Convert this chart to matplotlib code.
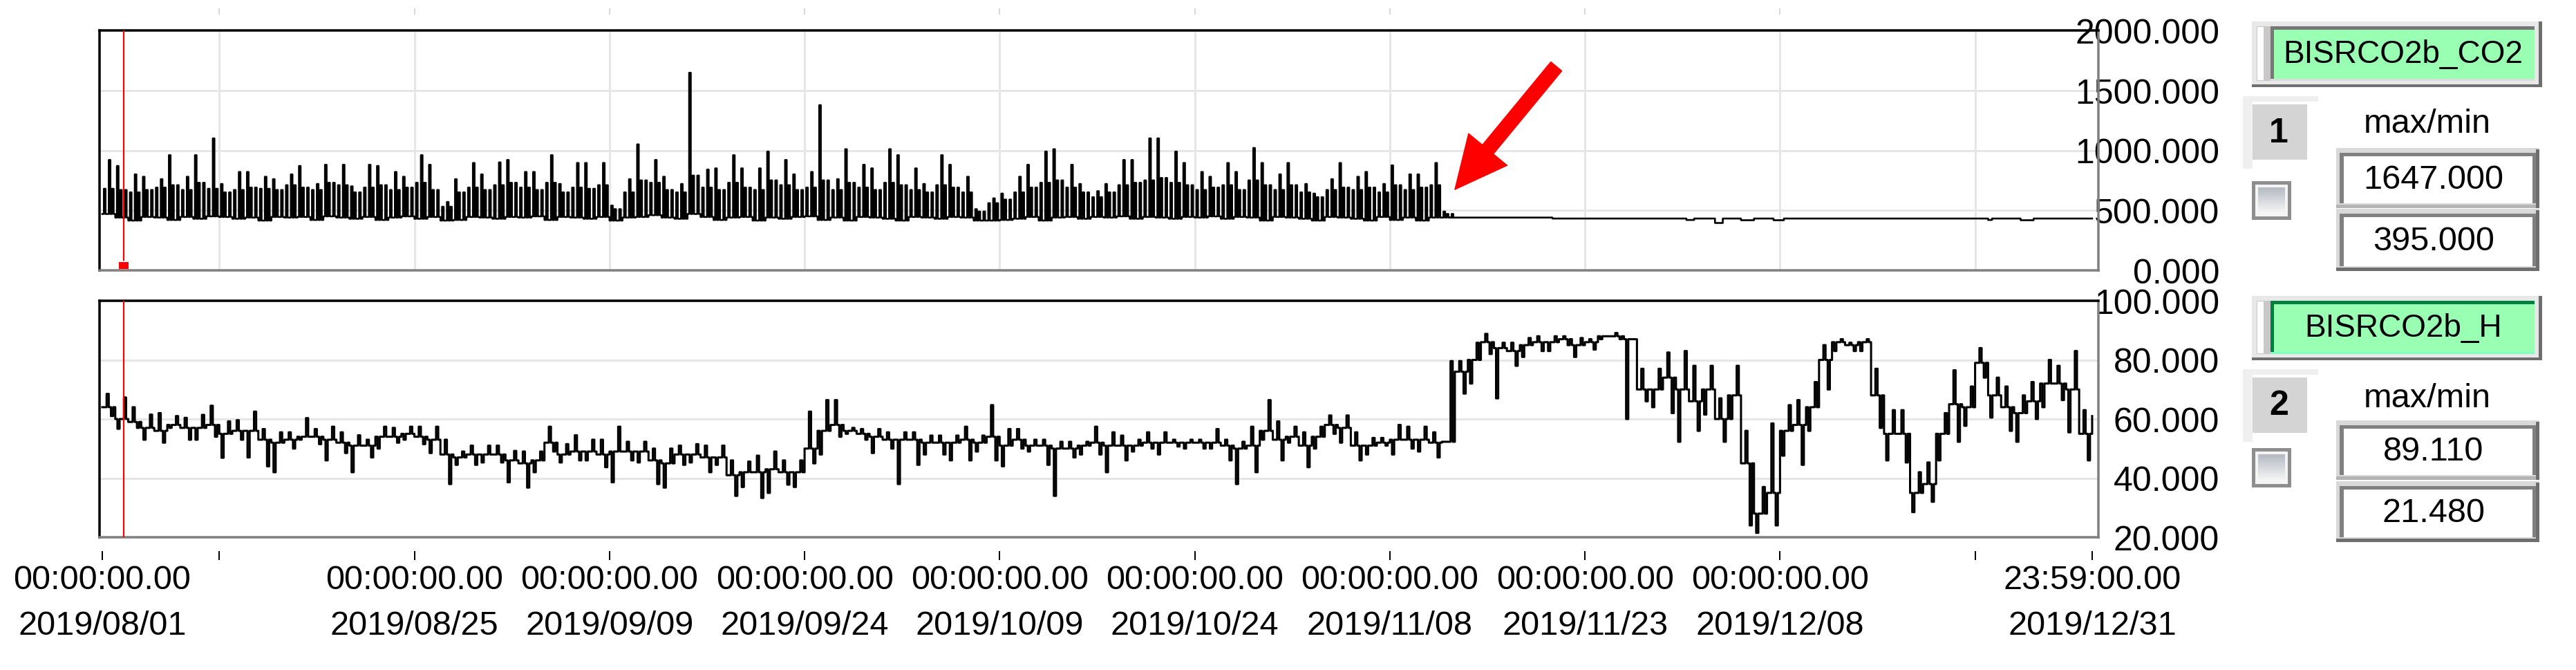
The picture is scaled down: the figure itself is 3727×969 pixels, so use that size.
import numpy as np
import matplotlib
matplotlib.use("Agg")
import matplotlib.pyplot as plt
import matplotlib.transforms as mtransforms
from matplotlib.patches import Rectangle
from matplotlib.colors import LinearSegmentedColormap

plt.rcParams['font.family'] = ['Liberation Sans Narrow', 'Liberation Sans', 'DejaVu Sans']

W, H, DPI = 3727, 970, 100

# ---- data (x = days since 2019/08/01 00:00) ----
# CO2: per-day low, top of the dense band, and spike high, until the sensor goes flat
co2_lo = [470, 440, 415, 445, 440, 420, 445, 430, 450, 445,
          430, 440, 415, 445, 440, 445, 420, 450, 440, 430,
          445, 420, 440, 450, 430, 445, 415, 420, 445, 440,
          430, 445, 440, 450, 420, 445, 440, 430, 445, 415,
          440, 445, 460, 440, 430, 470, 445, 420, 440, 445,
          415, 440, 430, 445, 450, 420, 440, 415, 445, 440,
          430, 415, 445, 440, 430, 445, 440, 415, 415, 420,
          430, 445, 415, 440, 445, 430, 445, 440, 450, 430,
          445, 440, 430, 445, 440, 450, 430, 445, 440, 415,
          445, 440, 430, 415, 445, 440, 430, 415, 445, 420,
          440, 415, 440, 440]
co2_body = [680, 670, 650, 670, 690, 710, 670, 730, 680, 650,
            670, 690, 680, 670, 710, 690, 670, 730, 710, 650,
            690, 710, 670, 690, 730, 670, 530, 650, 690, 670,
            710, 730, 690, 670, 730, 650, 690, 680, 710, 510,
            650, 750, 730, 670, 650, 790, 690, 670, 730, 690,
            670, 750, 710, 670, 690, 750, 670, 730, 690, 670,
            730, 710, 670, 650, 710, 690, 650, 490, 560, 590,
            650, 690, 730, 750, 690, 650, 610, 650, 710, 730,
            750, 770, 730, 710, 670, 690, 710, 670, 750, 710,
            670, 710, 650, 610, 670, 690, 670, 690, 650, 710,
            670, 690, 710, 470]
co2_hi = [920, 870, 800, 780, 760, 960, 780, 960, 1100, 720,
          820, 820, 780, 760, 800, 870, 720, 880, 880, 700,
          880, 870, 820, 780, 960, 880, 570, 760, 895, 800,
          900, 920, 820, 820, 960, 720, 895, 895, 895, 540,
          760, 1050, 920, 780, 720, 1647, 840, 850, 960, 850,
          850, 990, 920, 800, 820, 1377, 760, 1010, 880, 850,
          1010, 960, 850, 720, 960, 880, 780, 510, 600, 640,
          780, 880, 990, 1010, 880, 720, 660, 720, 920, 920,
          1100, 1100, 990, 895, 820, 780, 895, 820, 1020, 895,
          800, 895, 720, 640, 760, 895, 780, 820, 720, 875,
          800, 800, 895, 490]
co2_tail_days = [103.55, 111.5, 121.8, 122.4, 124.0, 124.6, 126.0, 127.0,
                 128.5, 129.3, 145.0, 145.3, 147.5, 148.5, 152.999]
co2_tail_vals = [440, 432, 420, 432, 395, 432, 418, 432,
                 418, 432, 420, 432, 418, 432, 432]

# humidity: typical level of each day, plus the day's low and high excursions
hum_level = [64, 60, 59, 57, 56, 58, 57, 57, 58, 55,
             56, 56, 53, 52, 53, 54, 54, 53, 52, 51,
             51, 54, 54, 55, 54, 53, 48, 47, 48, 48,
             48, 46, 45, 46, 52, 48, 49, 49, 48, 49,
             49, 49, 46, 45, 48, 48, 47, 47, 41, 42,
             42, 43, 42, 42, 50, 56, 58, 56, 55, 54,
             53, 53, 53, 52, 52, 52, 53, 52, 54, 51,
             53, 51, 51, 50, 50, 51, 52, 51, 51, 51,
             52, 52, 52, 52, 52, 52, 51, 50, 51, 56,
             53, 54, 51, 54, 58, 57, 51, 51, 52, 53,
             53, 53, 52, 52.3, 76, 80, 86, 84, 83, 85,
             86, 86, 87, 85, 86, 88, 88, 87, 70, 70,
             74, 70, 66, 70, 60, 68, 45, 28, 35, 56,
             58, 64, 80, 86, 85, 86, 68, 55, 55, 35,
             38, 55, 65, 64, 79, 68, 64, 62, 66, 72,
             72, 70, 55]
hum_lo = [61, 56.7, 57, 53, 52, 57, 53, 53, 54, 46.9,
          53, 47, 44, 42, 50, 53, 51.5, 46, 48.5, 42,
          47, 50, 52, 53, 51.5, 48.5, 38, 44.5, 44.5, 45.3,
          45.3, 38.6, 36.8, 42, 49, 45.3, 46, 46, 43.7, 38.6,
          46, 45.3, 38, 36.8, 44.5, 45.3, 42, 44.5, 34, 37,
          33.3, 35, 37.8, 37, 45, 48, 54, 55, 53, 48.5,
          50, 38, 44.5, 48, 48, 46, 46, 49, 46, 44,
          50, 49, 44.5, 34, 47, 48, 48, 42, 46, 49,
          50, 48, 50.7, 50, 50, 50, 46, 38, 42, 53,
          46, 52, 43.7, 50, 55, 52, 46, 48, 51, 48,
          50, 49, 47, 52.3, 68.6, 72, 82, 67, 78, 81,
          83, 83, 85, 81, 83.5, 87, 87, 60, 66, 64,
          62, 52.3, 56, 61.5, 52.3, 60, 24, 21.48, 24, 47.6,
          44.5, 56, 70, 83, 83, 83, 57, 46, 45.3, 28.5,
          32, 46, 52.3, 57.7, 74, 60.5, 56, 52.3, 60, 64,
          66.4, 55.5, 46]
hum_hi = [68.5, 67.3, 64, 61.5, 62, 61, 60.4, 61.4, 64.5, 59.2,
          59.6, 62.5, 56.6, 55.5, 55.5, 60.3, 56.6, 57.4, 55.5, 54.5,
          53, 57.4, 57, 57.4, 57.4, 57.4, 53, 49, 51, 51,
          51, 49.2, 49, 49, 57.4, 51.5, 54.5, 53, 53, 57.4,
          52.3, 52.3, 50, 50, 51, 51.5, 51, 51, 46, 45.6,
          47.6, 49, 46, 46, 62.5, 66.4, 66.4, 57, 56.6, 56.6,
          55.5, 55.5, 55.5, 54.4, 54.4, 54.4, 57.4, 54.4, 64.7, 56.6,
          56.6, 53, 53, 52.3, 52.3, 52.3, 57.4, 55.5, 54.4, 53,
          55.5, 55.5, 53, 53, 53, 56.6, 53, 52.3, 57.4, 66.4,
          59.2, 57.4, 55.5, 57.4, 61.2, 61.2, 55.5, 53.6, 53.6, 58,
          57.4, 57.4, 55.5, 79.6, 79.6, 85.8, 88.8, 85.8, 85.8, 87.4,
          88, 88, 88, 87.4, 87, 88, 89.11, 87, 77, 77,
          82.5, 83, 78, 78, 67, 78, 56, 37, 58.5, 64.7,
          66.4, 72.5, 85, 87, 85.8, 87, 77, 63, 63, 42,
          45.3, 62, 76.5, 71, 84, 74, 71, 68, 72.5, 80,
          78, 83, 63]
hum_end = 61

tick_days = [0, 9, 24, 39, 54, 69, 84, 99, 114, 129, 144, 152.999]
tick_labels = ["00:00:00.00\n2019/08/01", "", "00:00:00.00\n2019/08/25",
               "00:00:00.00\n2019/09/09", "00:00:00.00\n2019/09/24",
               "00:00:00.00\n2019/10/09", "00:00:00.00\n2019/10/24",
               "00:00:00.00\n2019/11/08", "00:00:00.00\n2019/11/23",
               "00:00:00.00\n2019/12/08", "", "23:59:00.00\n2019/12/31"]
grid_days = tick_days[1:-1]
co2_yticks = [0, 500, 1000, 1500, 2000]
hum_yticks = [20, 40, 60, 80, 100]
cursor_day = 1.65

panels = [
    dict(name="BISRCO2b_CO2", num="1", ylim=(0, 2000), yticks=co2_yticks, lw=1.9),
    dict(name="BISRCO2b_H", num="2", ylim=(20, 100), yticks=hum_yticks, lw=2.2),
]


def day_strokes(rows_even, rows_odd):
    # each day is split into equal slots holding the listed readings in order
    t, v = [], []
    for i, (ev, od) in enumerate(zip(rows_even, rows_odd)):
        vals = ev if i % 2 == 0 else od
        for k, val in enumerate(vals):
            t.append(i + k / len(vals))
            v.append(val)
    return t, v


co2_even = list(zip(co2_lo, co2_body, co2_lo, co2_lo, co2_hi, co2_lo, co2_body, co2_lo))
co2_odd = list(zip(co2_lo, co2_hi, co2_lo, co2_body, co2_lo, co2_lo, co2_body, co2_lo))
t1, v1 = day_strokes(co2_even, co2_odd)
t1 += co2_tail_days
v1 += co2_tail_vals

hum_even = list(zip(hum_level, hum_level, hum_hi, hum_level, hum_lo, hum_level))
hum_odd = list(zip(hum_level, hum_lo, hum_level, hum_level, hum_hi, hum_level))
t2, v2 = day_strokes(hum_even, hum_odd)
t2 += [152.999]
v2 += [hum_end]
series = [(np.array(t1), np.array(v1)), (np.array(t2), np.array(v2))]

fig = plt.figure(figsize=(W / DPI, H / DPI), dpi=DPI)
fig.patch.set_facecolor("white")

PX = 0.72  # points per pixel
axes_px = [(144, 45, 3036, 392), (144, 436, 3036, 778)]
axs = []
for (x0, y0, x1, y1), p, (t, v) in zip(axes_px, panels, series):
    ax = fig.add_axes([x0 / W, 1 - y1 / H, (x1 - x0) / W, (y1 - y0) / H])
    ax.set_xlim(-0.21, 153.48)
    ax.set_ylim(*p["ylim"])
    ax.plot(t, v, color="black", lw=p["lw"], drawstyle="steps-post", zorder=3)
    ax.set_yticks(p["yticks"])
    ax.set_yticklabels([f"{y:.3f}" for y in p["yticks"]], fontsize=36)
    ax.yaxis.tick_right()
    ax.tick_params(axis="y", length=0, pad=126)
    for lab in ax.get_yticklabels():
        lab.set_horizontalalignment("right")
    ax.set_xticks(grid_days, minor=True)
    ax.tick_params(axis="x", which="both", length=0)
    ax.grid(which="minor", axis="x", color="#e6e6e6", lw=3 * PX, zorder=0)
    ax.grid(which="major", axis="y", color="#e6e6e6", lw=3 * PX, zorder=0)
    for s in ("top", "left"):
        ax.spines[s].set_color("black")
        ax.spines[s].set_linewidth(3.5 * PX)
    for s in ("bottom", "right"):
        ax.spines[s].set_color("#808080")
        ax.spines[s].set_linewidth(3.5 * PX)
    ax.axvline(cursor_day, color="red", lw=2.2 * PX, zorder=4,
               ymin=0.043 if p["num"] == "1" else 0, ymax=1)
    axs.append(ax)

ax1, ax2 = axs
ax1.set_xticks([])
ax2.set_xticks(tick_days)
ax2.set_xticklabels(tick_labels, fontsize=35, linespacing=1.6)
ax2.tick_params(axis="x", which="major", length=0, pad=28)

# red marker at the cursor foot
tr1 = mtransforms.blended_transform_factory(ax1.transData, ax1.transAxes)
ax1.add_patch(Rectangle((cursor_day - 0.35, 0.006), 0.7, 0.028, transform=tr1,
                        facecolor="red", edgecolor="none", zorder=5, clip_on=False))

# detached tick marks above the first plot and below the second
ax1.vlines(grid_days[:-1], 1.066, 1.092, transform=tr1, color="#d8d8d8",
           lw=2 * PX, clip_on=False)
tr2 = mtransforms.blended_transform_factory(ax2.transData, ax2.transAxes)
ax2.vlines(tick_days, -0.097, -0.058, transform=tr2, color="black",
           lw=2 * PX, clip_on=False)

# annotation arrow
ax1.annotate("", xy=(104.0, 674), xytext=(111.8, 1700),
             arrowprops=dict(arrowstyle="simple,head_length=1.35,head_width=1.3,tail_width=0.37",
                             mutation_scale=40, color="red", shrinkA=0, shrinkB=0),
             zorder=6, annotation_clip=False)

# ---- side widgets, drawn in pixel coordinates ----
ov = fig.add_axes([0, 0, 1, 1], zorder=10)
ov.set_xlim(0, W)
ov.set_ylim(H, 0)
ov.axis("off")
ov.patch.set_alpha(0)

GREEN = "#99ffb3"
chk_cmap = LinearSegmentedColormap.from_list("chk", ["#b5bac3", "#f7f7f7"])


def box(x0, y0, x1, y1, color):
    ov.add_patch(Rectangle((x0, y0), x1 - x0, y1 - y0, facecolor=color, edgecolor="none"))


def widgets(p, y_name, y_btn, y_chk, y_mm, y_v1, y_v2, vmax, vmin, focused):
    # name plate
    box(3258, y_name[0], 3678, y_name[1], "#e8e8e8")
    box(3258, y_name[1] - 4, 3678, y_name[1], "#6e6e6e")
    box(3673, y_name[0], 3678, y_name[1], "#6e6e6e")
    box(3265, y_name[0] + 7, 3285, y_name[1] - 9, "#c8c8c8")
    box(3266, y_name[0] + 8, 3275, y_name[1] - 10, "white")
    gy0, gy1 = y_name[0] + 7, y_name[1] - 9
    box(3285, gy0, 3667, gy1, GREEN)
    edge = "#008040" if focused else "#777777"
    box(3285, gy0, 3667, gy0 + 5, edge)
    box(3285, gy0, 3290, gy1, edge)
    box(3285, gy1 - 3, 3667, gy1, "#dcdcdc" if not focused else "#80ffc0")
    ov.text(3477, (gy0 + gy1) / 2 + 1, p["name"], ha="center", va="center",
            fontsize=33, color="black")
    # number tab
    box(3245, y_btn[0], 3354, y_btn[1], "white")
    box(3245, y_btn[0], 3354, y_btn[0] + 8, "#efefef")
    box(3245, y_btn[0], 3259, y_btn[1], "#efefef")
    box(3259, y_btn[0] + 12, 3338, y_btn[1] - 13, "#d4d4d4")
    ov.text(3297, (y_btn[0] + y_btn[1]) / 2, p["num"], ha="center", va="center",
            fontsize=36, fontweight="bold", color="black")
    # checkbox
    box(3258, y_chk[0], 3315, y_chk[1], "#8e8e8e")
    box(3263, y_chk[0] + 5, 3310, y_chk[1] - 5, "#f4f4f4")
    ov.imshow(np.linspace(0, 1, 32).reshape(-1, 1), cmap=chk_cmap, aspect="auto",
              extent=(3267, 3306, y_chk[1] - 9, y_chk[0] + 9), zorder=2)
    # max/min
    ov.text(3512, y_mm, "max/min", ha="center", va="center", fontsize=35, color="black")
    for (v0, v1_), txt, dark_bottom in ((y_v1, vmax, False), (y_v2, vmin, True)):
        box(3380, v0, 3674, v1_, "#d9d9d9")
        box(3385, v0 + 7, 3669, v1_ - 7, "#808080")
        box(3391, v0 + 12, 3664, v1_ - 7, "white")
        box(3380, v1_ - 5, 3674, v1_, "#6e6e6e" if dark_bottom else "#b4b4b4")
        box(3669, v0 + 2, 3674, v1_, "#6e6e6e")
        ov.text(3521, (v0 + v1_) / 2 + 2, txt, ha="center", va="center",
                fontsize=35, color="black")


widgets(panels[0], (32, 127), (140, 245), (263, 319), 180, (215, 302), (303, 393),
        f"{max(v1):.3f}", f"{min(v1):.3f}", False)
widgets(panels[1], (429, 522), (535, 640), (649, 706), 577, (609, 695), (697, 785),
        f"{max(v2):.3f}", f"{min(v2):.3f}", True)

ov.set_xlim(0, W)
ov.set_ylim(H, 0)

fig.savefig("out.png", dpi=DPI, facecolor="white")
